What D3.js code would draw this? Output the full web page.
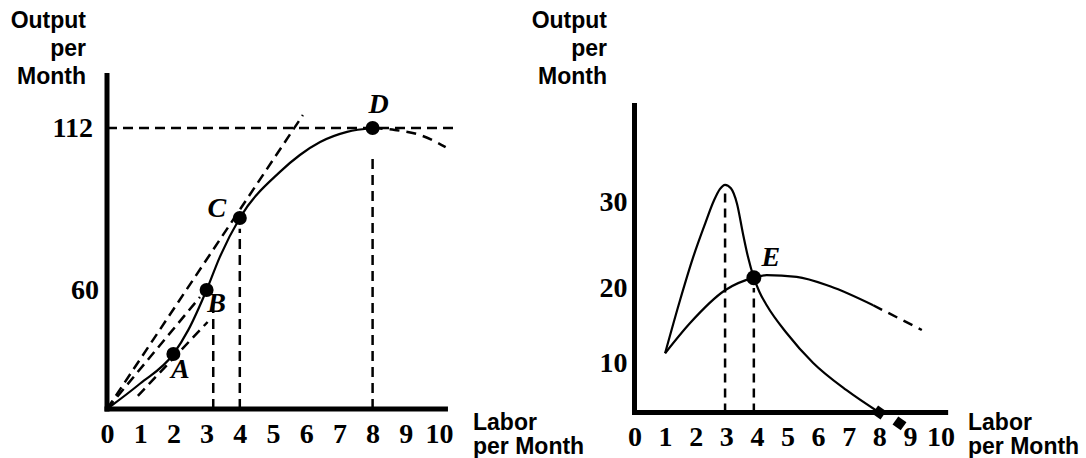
<!DOCTYPE html>
<html><head><meta charset="utf-8">
<script src="https://cdn.jsdelivr.net/npm/d3@7"></script>
<style>
html,body{margin:0;padding:0;background:#fff;}
svg{display:block;}
.serif{font-family:"Liberation Serif","Times New Roman",serif;font-weight:bold;}
.sans{font-family:"Liberation Sans",Arial,sans-serif;font-weight:bold;}
</style></head>
<body>
<svg id="c" width="1086" height="458"></svg>
<script>
// ---------- DATA ----------
// Left panel: total product
const xTicks = [0,1,2,3,4,5,6,7,8,9,10];
const leftYTicks = [60,112];
const tpX = [0, 1.0, 2, 2.45, 3, 3.4, 4, 5.21, 5.81, 6.42, 7.23, 8];
const tpY = [0, 13.9, 30, 41.3, 60, 69.2, 80, 96.4, 102.4, 107, 110.6, 112];
const tpDashX = [8, 8.67, 9.43, 10.2];
const tpDashY = [112, 111.3, 109.5, 105.2];
const pointNames = ["A","B","C","D"];
const pointX = [2, 3, 4, 8];
const pointY = [30, 60, 80, 112];
// rays / tangent (start and end points)
const ray0C_X = [0, 5.9],  ray0C_Y = [0, 116.6];
const ray0B_X = [0, 2.8],  ray0B_Y = [0, 56.7];
const tanA_X = [0.93, 3.03], tanA_Y = [7.2, 45];
// guide lines
const vGuideX = [3.2, 4, 8];
const vGuideTop = [55.3, 77, 102.4];
const hGuideY = 112, hGuideEnd = 10.48;

// Right panel: average & marginal product
const rightYTicks = [10,20,30];
const apX = [1, 1.81, 2.96, 3.90, 4.32, 5.30, 6.39, 7.80];
const apY = [11.3, 15.3, 19.7, 21.2, 21.5, 21.3, 20.2, 17.7];
const apDashX = [7.80, 9.39];
const apDashY = [17.7, 14.4];
const mpX = [1.00, 1.49, 1.91, 2.30, 2.60, 2.79, 2.96, 3.15, 3.35, 3.54, 3.71, 3.90, 4.08, 4.32, 4.97, 5.84, 6.93, 8];
const mpY = [11.3, 18.4, 23.5, 27.4, 30.2, 31.5, 32.0, 31.6, 29.8, 26.4, 23.6, 21.2, 19.5, 17.7, 14.0, 10.0, 4.5, 0];
const mpNegX = [8, 8.66];
const mpNegY = [0, -2.2];
const eX = 3.90, eY = 21.2;
const rvGuideX = [2.96, 3.90];
const rvGuideTop = [31, 20];

// ---------- DRAW ----------
const svg = d3.select("#c");
svg.append("rect").attr("width",1086).attr("height",458).attr("fill","#fff");

const xL = d3.scaleLinear().domain([0,10]).range([107,439]);
const yL = d3.scaleLinear().domain([0,30,60,80,112]).range([409,354,290,218,128]);
const xR = d3.scaleLinear().domain([0,10]).range([634.5,940.5]);
const yR = d3.scaleLinear().domain([0,10,20,30]).range([412.5,363,288,202]);

const zip = (xs,ys)=>xs.map((v,i)=>[v,ys[i]]);
const DASH = "10,6";

function line(g, x, y, pts, opts){
  const gen = d3.line().x(d=>x(d[0])).y(d=>y(d[1]));
  if(opts.curve) gen.curve(opts.curve);
  g.append("path").attr("d",gen(pts)).attr("fill","none")
   .attr("stroke","#000").attr("stroke-width",opts.w||2)
   .attr("stroke-dasharray",opts.dash||null)
   .attr("stroke-linecap","butt").attr("stroke-linejoin","round");
}

function axesFrame(g, x, y, top, end){
  g.append("line").attr("x1",x(0)).attr("x2",x(0)).attr("y1",y(0)+2.5).attr("y2",y(top))
   .attr("stroke","#000").attr("stroke-width",5);
  g.append("line").attr("x1",x(0)-2.5).attr("x2",x(end)).attr("y1",y(0)).attr("y2",y(0))
   .attr("stroke","#000").attr("stroke-width",5);
}

function tickAxes(g, x, y, yTicks, ypad, dxFn){
  const ax = g.append("g").attr("transform",`translate(0,${y(0)})`)
    .call(d3.axisBottom(x).tickValues(xTicks).tickSize(0).tickPadding(14).tickFormat(d3.format("d")));
  ax.select(".domain").remove();
  ax.selectAll("text").attr("class","serif").attr("font-size",28).attr("fill","#000");
  const ay = g.append("g").attr("transform",`translate(${x(0)},0)`)
    .call(d3.axisLeft(y).tickValues(yTicks).tickSize(0).tickPadding(ypad).tickFormat(d3.format("d")));
  ay.select(".domain").remove();
  ay.selectAll("text").attr("class","serif").attr("font-size",28).attr("fill","#000")
    .attr("dx", d=>dxFn(d));
  [ax,ay].forEach(a=>a.attr("font-family",null).attr("font-size",null));
}

function axisTitles(g, yTitleX, xTitleX){
  const t = g.append("text").attr("class","sans").attr("font-size",23).attr("text-anchor","end");
  [["Output",28],["per",56],["Month",84]].forEach(([s,b])=>
    t.append("tspan").attr("x",yTitleX).attr("y",b).text(s));
  const u = g.append("text").attr("class","sans").attr("font-size",23).attr("text-anchor","start");
  [["Labor",430],["per Month",454]].forEach(([s,b])=>
    u.append("tspan").attr("x",xTitleX).attr("y",b).text(s));
}

// ===== Left panel =====
const gL = svg.append("g");
vGuideX.forEach((vx,i)=> line(gL, xL, yL, [[vx,0],[vx,vGuideTop[i]]], {dash:DASH, w:2.5}));
line(gL, xL, yL, [[0,hGuideY],[hGuideEnd,hGuideY]], {dash:DASH, w:2.5});
line(gL, xL, yL, zip(ray0C_X, ray0C_Y), {dash:DASH, w:2.5});
line(gL, xL, yL, zip(ray0B_X, ray0B_Y), {dash:DASH, w:2.5});
line(gL, xL, yL, zip(tanA_X, tanA_Y), {dash:DASH, w:2.5});
line(gL, xL, yL, zip(tpX, tpY), {curve:d3.curveMonotoneX, w:2.2});
line(gL, xL, yL, zip(tpDashX, tpDashY), {curve:d3.curveMonotoneX, dash:"10,7", w:2.5});
axesFrame(gL, xL, yL, 131.6, 10.27);
tickAxes(gL, xL, yL, leftYTicks, 8, d=> d===112 ? -6 : 0);
const labelOff = {A:[7,14],B:[10,12],C:[-23,-11],D:[6,-25]};
pointNames.forEach((n,i)=>{
  gL.append("circle").attr("cx",xL(pointX[i])).attr("cy",yL(pointY[i])).attr("r",7).attr("fill","#000");
  gL.append("text").attr("class","serif").attr("font-style","italic").attr("font-size",28)
    .attr("text-anchor","middle").attr("dy","0.35em")
    .attr("x",xL(pointX[i])+labelOff[n][0]).attr("y",yL(pointY[i])+labelOff[n][1]).text(n);
});
axisTitles(gL, 86, 473);

// ===== Right panel =====
const gR = svg.append("g");
rvGuideX.forEach((vx,i)=> line(gR, xR, yR, [[vx,0],[vx,rvGuideTop[i]]], {dash:"9,6", w:2.5}));
line(gR, xR, yR, zip(apX, apY), {curve:d3.curveMonotoneX, w:2.2});
line(gR, xR, yR, zip(apDashX, apDashY), {dash:"10,7", w:2.5});
line(gR, xR, yR, zip(mpX, mpY), {curve:d3.curveMonotoneX, w:2.2});
axesFrame(gR, xR, yR, 41.5, 10.25);
tickAxes(gR, xR, yR, rightYTicks, 7, d=>0);
gR.selectAll(".neg").data(zip(mpNegX, mpNegY)).enter().append("path")
  .attr("d", d3.symbol(d3.symbolSquare, 100)())
  .attr("transform", d=>`translate(${xR(d[0])},${yR(d[1])}) rotate(35)`)
  .attr("fill","#000");
gR.append("circle").attr("cx",xR(eX)).attr("cy",yR(eY)).attr("r",7.5).attr("fill","#000");
gR.append("text").attr("class","serif").attr("font-style","italic").attr("font-size",28)
  .attr("text-anchor","middle").attr("dy","0.35em")
  .attr("x",xR(eX)+17).attr("y",yR(eY)-21).text("E");
axisTitles(gR, 607, 968);
</script>
</body></html>
